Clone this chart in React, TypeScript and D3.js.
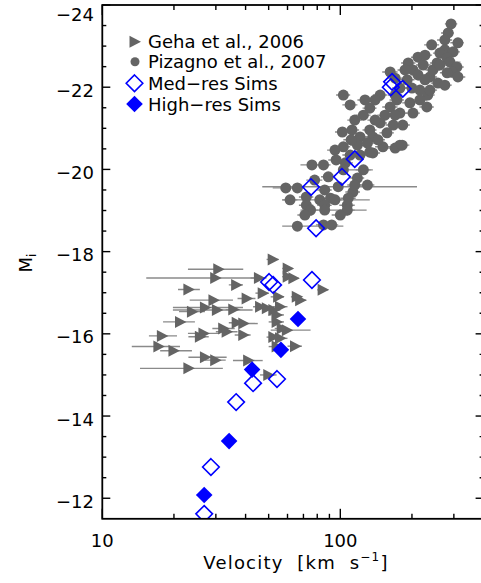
import React, { useRef, useEffect } from 'react';
import * as d3 from 'd3';

// Geha et al. 2006: [velocity km/s, M_i, error bar low, error bar high]
const GEHA: number[][] = [
  [52.0, -17.81, 49, 55], [60.1, -17.59, 57, 63], [30.7, -17.57, 22.9, 39.1],
  [29.8, -17.36, 15.3, 44.6], [45.5, -17.36, 42, 49], [60.1, -17.39, 57, 64],
  [63.5, -17.35, 60, 67], [36.5, -17.19, 34, 39], [23.0, -17.08, 20.8, 25.7],
  [84.3, -17.07, 80, 89], [40.4, -16.86, 37, 44], [29.3, -16.82, 23.3, 35.4],
  [47.2, -16.99, 44, 50], [65.6, -16.90, 62, 69], [67.8, -16.82, 64, 72],
  [54.8, -16.90, 51, 58], [27.0, -16.64, 19.8, 39.0], [23.8, -16.54, 21, 27],
  [30.3, -16.58, 19.8, 42.8], [35.5, -16.59, 33, 38], [46.0, -16.66, 43, 49],
  [49.1, -16.62, 46, 52], [52.3, -16.58, 49, 56], [55.8, -16.66, 52, 60],
  [54.0, -16.46, 50, 58], [21.2, -16.29, 18.0, 24.5], [36.7, -16.27, 34, 40],
  [39.1, -16.25, 35, 45], [54.0, -16.29, 50, 58], [59.6, -16.09, 51, 75],
  [32.2, -16.13, 29, 36], [17.8, -15.95, 15.7, 20.6], [25.7, -15.93, 23, 28],
  [26.6, -16.01, 22.9, 31], [33.3, -16.05, 30, 37], [39.1, -15.97, 36, 42],
  [55.8, -15.89, 52, 60], [17.2, -15.69, 13.3, 21.2], [19.9, -15.59, 17.5, 23.8],
  [54.0, -15.69, 50, 58], [64.5, -15.70, 60, 69], [27.0, -15.43, 23, 33.3],
  [29.8, -15.36, 27, 33], [41.0, -15.35, 35.4, 47.2], [23.0, -15.16, 14.4, 32.1],
  [49.8, -15.00, 46, 54], [52.3, -15.92, 49, 56], [56.7, -16.13, 53, 60],
];

// Pizagno et al. 2007: [velocity km/s, M_i, error bar low, error bar high]
const PIZAGNO: number[][] = [
  [292, -23.54, 275, 310], [284, -23.32, 265, 300], [275, -23.15, 255, 295],
  [312, -23.08, 290, 330], [242, -23.03, 225, 260], [275, -22.91, 255, 295],
  [298, -22.86, 280, 318], [262, -22.83, 245, 280], [212, -22.73, 198, 228],
  [281, -22.71, 262, 300], [193, -22.59, 180, 207], [255, -22.59, 238, 272],
  [289, -22.61, 270, 320], [223, -22.54, 208, 240], [309, -22.49, 288, 330],
  [202, -22.42, 188, 217], [162, -22.37, 150, 174], [295, -22.37, 275, 315],
  [281, -22.35, 262, 300], [238, -22.25, 222, 255], [312, -22.25, 290, 335],
  [191, -22.18, 178, 205], [257, -22.10, 240, 275], [200, -21.98, 186, 214],
  [216, -21.93, 200, 232], [103, -21.81, 96, 110], [147, -21.81, 137, 157],
  [173, -21.69, 161, 185], [196, -21.62, 182, 210], [231, -21.52, 215, 247],
  [162, -21.52, 150, 174], [133, -21.49, 124, 142], [125, -21.32, 116, 134],
  [154, -21.32, 143, 165], [178, -21.37, 165, 191], [202, -21.37, 188, 216],
  [147, -21.13, 137, 157], [167, -21.08, 155, 179], [183, -21.08, 170, 196],
  [133, -20.96, 124, 142], [157, -20.89, 146, 168], [102, -20.91, 95, 109],
  [112, -20.96, 104, 120], [121, -20.79, 112, 130], [137, -20.79, 127, 147],
  [103, -20.55, 96, 110], [118, -20.59, 110, 126], [130, -20.64, 121, 139],
  [151, -20.55, 140, 162], [178, -20.59, 165, 191], [133, -20.42, 124, 142],
  [170, -20.52, 158, 182], [182, -20.59, 169, 195], [121, -20.35, 112, 130],
  [137, -20.40, 127, 147], [105, -20.16, 97, 113], [76, -20.11, 68, 90],
  [85, -20.11, 79, 91], [89, -19.82, 83, 95], [103, -19.99, 100, 137],
  [125, -19.99, 116, 134], [118, -19.79, 110, 126], [130, -19.62, 121, 139],
  [59, -19.55, 52, 66], [66, -19.55, 61, 71], [86, -19.50, 80, 92],
  [98, -19.58, 47, 210], [113, -19.45, 105, 121], [72, -19.33, 67, 77],
  [82, -19.26, 57, 133], [91, -19.30, 85, 97], [108, -19.30, 100, 116],
  [72, -19.13, 67, 77], [86, -19.13, 80, 92], [107, -19.13, 99, 115],
  [86, -19.01, 68, 129], [107, -19.01, 99, 115], [66, -18.62, 57, 103],
  [85, -18.65, 79, 91], [92, -18.65, 86, 98], [227, -22.78, 211, 243],
  [245, -22.42, 228, 262], [212, -22.30, 197, 227], [178, -21.98, 165, 191],
  [170, -22.22, 158, 182], [233, -21.81, 217, 249], [262, -22.54, 244, 280],
  [275, -22.05, 256, 294], [140, -21.69, 130, 150], [115, -21.20, 107, 123],
  [144, -20.72, 134, 154], [111, -20.72, 103, 119], [96, -20.23, 89, 103],
  [110, -21.57, 102, 118], [127, -21.69, 118, 136], [140, -21.20, 130, 150],
  [170, -21.32, 158, 182], [216, -21.69, 200, 232], [238, -21.93, 222, 255],
  [170, -21.81, 158, 182], [187, -22.42, 174, 200], [227, -22.18, 211, 243],
  [95, -20.47, 88, 102], [110, -20.35, 102, 118], [78, -19.74, 72, 84],
  [95, -19.26, 88, 102], [75, -19.01, 69, 81], [100, -18.89, 92, 108],
  [115, -19.62, 107, 123], [61.5, -19.26, 57, 66], [71, -18.89, 66, 76],
];

// simulations: [velocity km/s, M_i]
const MED_RES: number[][] = [
  [165, -22.13], [163, -22.0], [183, -21.96], [115, -20.25], [101.6, -19.82],
  [75.3, -19.57], [79.1, -18.57], [50.2, -17.26], [52.2, -17.19], [76.0, -17.31],
  [43.0, -14.80], [54.2, -14.90], [36.5, -14.34], [28.6, -12.76], [26.8, -11.62],
];
const HIGH_RES: number[][] = [
  [66.4, -16.36], [56.3, -15.61], [42.6, -15.13], [34.1, -13.39], [26.8, -12.08],
];

const LEGEND = ['Geha et al., 2006', 'Pizagno et al., 2007', 'Med\u2212res Sims', 'High\u2212res Sims'];
const X_MAJOR = [10, 100];
const X_MINOR = [20, 30, 40, 50, 60, 70, 80, 90, 200, 300];
const Y_MAJOR = [-24, -22, -20, -18, -16, -14, -12];
const Y_MINOR = d3.range(-23.5, -11.5, 0.5).filter(v => !Y_MAJOR.includes(v));

const GRAY = '#646464';
const ERR_GRAY = '#8a8a8a';
const BLUE = '#0000ff';
const FONT = '"DejaVu Sans", sans-serif';
const TRI = 'M-5,-6L6.5,0L-5,6Z';
const DIAMOND = 'M0,-8.3L8.3,0L0,8.3L-8.3,0Z';

const App: React.FC = () => {
  const ref = useRef<SVGSVGElement | null>(null);

  useEffect(() => {
    const x0 = 102.3, x1 = 483.6, y0 = 5, y1 = 518.8;
    const xScale = d3.scaleLog().domain([10, 400]).range([x0, x1]);
    const yScale = d3.scaleLinear().domain([-24, -11.5]).range([y0, y1]);

    const svg = d3.select(ref.current);
    svg.selectAll('*').remove();

    svg.append('defs').append('clipPath').attr('id', 'plotClip')
      .append('rect').attr('x', x0).attr('y', y0).attr('width', x1 - x0).attr('height', y1 - y0);

    const plot = svg.append('g').attr('clip-path', 'url(#plotClip)');

    // error bars
    const errs = [...GEHA, ...PIZAGNO];
    plot.selectAll('line.err').data(errs).join('line')
      .attr('class', 'err')
      .attr('x1', d => xScale(d[2])).attr('x2', d => xScale(d[3]))
      .attr('y1', d => yScale(d[1])).attr('y2', d => yScale(d[1]))
      .attr('stroke', ERR_GRAY).attr('stroke-width', 1.4);

    plot.selectAll('path.geha').data(GEHA).join('path')
      .attr('class', 'geha')
      .attr('d', TRI)
      .attr('transform', d => `translate(${xScale(d[0])},${yScale(d[1])})`)
      .attr('fill', GRAY);

    plot.selectAll('circle.piz').data(PIZAGNO).join('circle')
      .attr('class', 'piz')
      .attr('cx', d => xScale(d[0])).attr('cy', d => yScale(d[1]))
      .attr('r', 5.5).attr('fill', GRAY);

    plot.selectAll('path.med').data(MED_RES).join('path')
      .attr('class', 'med')
      .attr('d', DIAMOND)
      .attr('transform', d => `translate(${xScale(d[0])},${yScale(d[1])})`)
      .attr('fill', 'none').attr('stroke', BLUE).attr('stroke-width', 1.6);

    plot.selectAll('path.high').data(HIGH_RES).join('path')
      .attr('class', 'high')
      .attr('d', DIAMOND)
      .attr('transform', d => `translate(${xScale(d[0])},${yScale(d[1])})`)
      .attr('fill', BLUE);

    // frame
    const axes = svg.append('g').attr('stroke', 'black');
    axes.append('rect').attr('x', x0).attr('y', y0).attr('width', x1 - x0).attr('height', y1 - y0)
      .attr('fill', 'none').attr('stroke-width', 1.8);

    const xTicks = [...X_MAJOR.map(v => ({ v, len: 10 })), ...X_MINOR.map(v => ({ v, len: 5 }))];
    xTicks.forEach(t => {
      const x = xScale(t.v);
      axes.append('line').attr('x1', x).attr('x2', x).attr('y1', y1).attr('y2', y1 - t.len).attr('stroke-width', 1.4);
      axes.append('line').attr('x1', x).attr('x2', x).attr('y1', y0).attr('y2', y0 + t.len).attr('stroke-width', 1.4);
    });
    const yTicks = [...Y_MAJOR.map(v => ({ v, len: 8 })), ...Y_MINOR.map(v => ({ v, len: 4 }))];
    yTicks.forEach(t => {
      const y = yScale(t.v);
      axes.append('line').attr('x1', x0).attr('x2', x0 + t.len).attr('y1', y).attr('y2', y).attr('stroke-width', 1.4);
      axes.append('line').attr('x1', x1).attr('x2', x1 - t.len).attr('y1', y).attr('y2', y).attr('stroke-width', 1.4);
    });

    // tick labels
    const labels = svg.append('g').attr('font-family', FONT).attr('font-size', 18).attr('fill', 'black');
    X_MAJOR.forEach(v => {
      labels.append('text').attr('x', xScale(v)).attr('y', 547)
        .attr('text-anchor', 'middle').text(String(v));
    });
    Y_MAJOR.forEach(v => {
      labels.append('text').attr('x', 94).attr('y', Math.max(yScale(v) + 9.5, 20.5))
        .attr('text-anchor', 'end').text(`\u2212${Math.abs(v)}`);
    });

    // axis titles
    const xt = svg.append('text').attr('x', 296).attr('y', 569)
      .attr('font-family', FONT).attr('font-size', 18).attr('letter-spacing', 1.2)
      .attr('text-anchor', 'middle').style('white-space', 'pre');
    xt.append('tspan').text('Velocity  [km  s');
    xt.append('tspan').attr('font-size', 12).attr('dy', -8).text('\u22121');
    xt.append('tspan').attr('dy', 8).text(']');

    const yt = svg.append('text').attr('transform', 'translate(32,263) rotate(-90)')
      .attr('font-family', FONT).attr('font-size', 18).attr('text-anchor', 'middle');
    yt.append('tspan').text('M');
    yt.append('tspan').attr('font-size', 12).attr('dy', 4).text('i');

    // legend
    const leg = svg.append('g');
    const rows = [41.7, 61.7, 83.3, 104];
    leg.append('path').attr('d', TRI).attr('transform', `translate(134.5,${rows[0]})`).attr('fill', GRAY);
    leg.append('circle').attr('cx', 135).attr('cy', rows[1]).attr('r', 4.5).attr('fill', GRAY);
    leg.append('path').attr('d', DIAMOND).attr('transform', `translate(134.5,${rows[2]})`)
      .attr('fill', 'none').attr('stroke', BLUE).attr('stroke-width', 1.6);
    leg.append('path').attr('d', DIAMOND).attr('transform', `translate(134.5,${rows[3]})`).attr('fill', BLUE);
    LEGEND.forEach((t, i) => {
      leg.append('text').attr('x', 148).attr('y', rows[i] + 6.5)
        .attr('font-family', FONT).attr('font-size', 18).text(t);
    });
  }, []);

  return (
    <svg ref={ref} width={481} height={583}
      style={{ position: 'absolute', left: 0, top: 0, background: 'white' }} />
  );
};

export default App;
